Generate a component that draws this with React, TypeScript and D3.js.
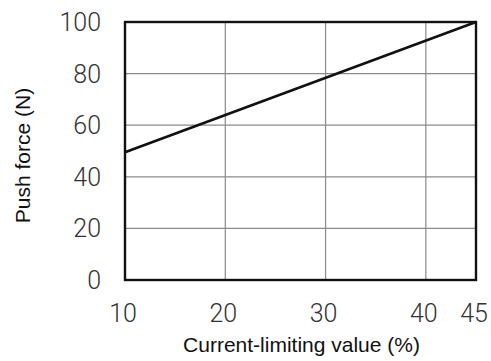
import React from "react";
import * as d3 from "d3";

const xTicks = [10, 20, 30, 40, 45];
const yTicks = [0, 20, 40, 60, 80, 100];
const currentLimit = [10, 45];
const pushForce = [49.5, 100];
const xTitle = "Current-limiting value (%)";
const yTitle = "Push force (N)";

export default function App() {
  const W = 491, H = 361;
  const m = { left: 125, right: 476, top: 22, bottom: 280 };
  const x = d3.scaleLinear().domain([10, 45]).range([m.left, m.right]);
  const y = d3.scaleLinear().domain([0, 100]).range([m.bottom, m.top]);
  const pts = currentLimit.map((c, i) => [c, pushForce[i]] as [number, number]);
  const line = d3.line<[number, number]>().x(d => x(d[0])).y(d => y(d[1]))(pts) || "";
  const tickFont = "Roboto, 'Liberation Sans', sans-serif";
  const titleFont = "'Liberation Sans', Arial, sans-serif";
  return (
    <svg width={W} height={H} style={{ position: "absolute", left: 0, top: 0, background: "#fff" }}>
      {xTicks.filter(t => t > 10 && t < 45).map(t => (
        <line key={"gx" + t} x1={x(t)} x2={x(t)} y1={m.top} y2={m.bottom} stroke="#8a8a8a" strokeWidth={1.2} />
      ))}
      {yTicks.filter(t => t > 0 && t < 100).map(t => (
        <line key={"gy" + t} x1={m.left} x2={m.right} y1={y(t)} y2={y(t)} stroke="#8a8a8a" strokeWidth={1.2} />
      ))}
      <rect x={m.left} y={m.top} width={m.right - m.left} height={m.bottom - m.top} fill="none" stroke="#111" strokeWidth={2.4} />
      <path d={line} fill="none" stroke="#111" strokeWidth={2.6} />
      {yTicks.map(t => (
        <text key={"ty" + t} x={101} y={y(t)} dy="0.36em" textAnchor="end" fontFamily={tickFont} fontWeight={300} fontSize={25} fill="#333">{t}</text>
      ))}
      {xTicks.map(t => (
        <text key={"tx" + t} x={x(t) - 2} y={322} textAnchor="middle" fontFamily={tickFont} fontWeight={300} fontSize={25} fill="#333">{t}</text>
      ))}
      <text x={301.5} y={352} textAnchor="middle" fontFamily={titleFont} fontSize={21} fill="#111">{xTitle}</text>
      <text transform={`translate(30,155.5) rotate(-90)`} textAnchor="middle" fontFamily={titleFont} fontSize={21} fill="#111">{yTitle}</text>
    </svg>
  );
}
